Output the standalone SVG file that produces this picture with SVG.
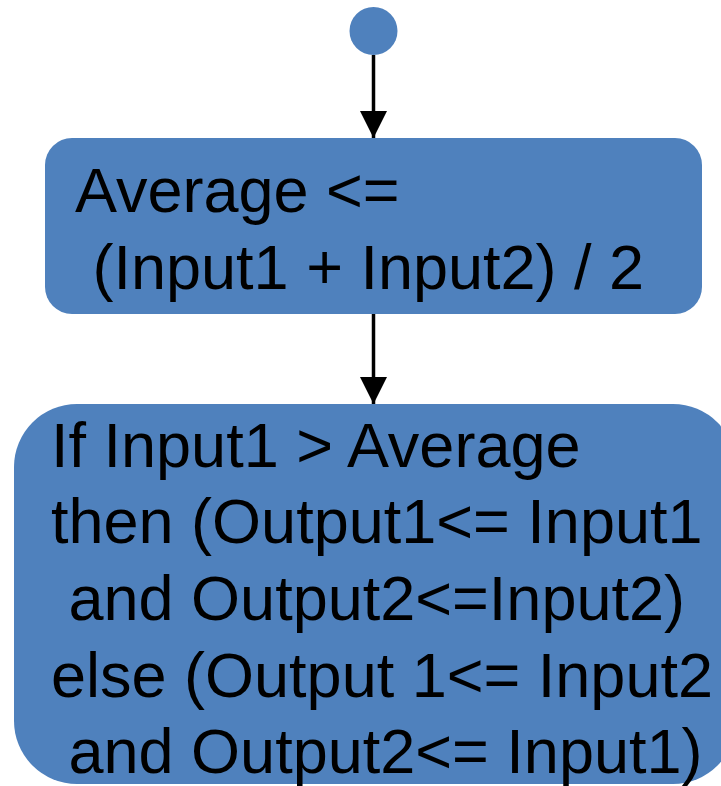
<svg xmlns="http://www.w3.org/2000/svg" width="721" height="786" viewBox="0 0 721 786">
<style>
.node{fill:#4F81BD;}
.lbl{font-family:"Liberation Sans",Arial,sans-serif;font-size:63px;fill:#000;white-space:pre;}
.edge{stroke:#000;stroke-width:3.5;fill:none;}
</style>
<defs>
<marker id="arr" markerUnits="userSpaceOnUse" markerWidth="27" markerHeight="27" refX="27" refY="13.5" orient="auto">
<path d="M0,0 L27,13.5 L0,27 Z" fill="#000"/>
</marker>
</defs>
<rect width="721" height="786" fill="#fff"/>
<g id="start">
<circle class="node" cx="373.5" cy="31" r="24"/>
</g>
<g id="average">
<rect class="node" x="45" y="138" width="657" height="176" rx="27" ry="27"/>
<text class="lbl" xml:space="preserve"><tspan x="75" y="211.5">Average &lt;=</tspan><tspan x="75" y="289"> (Input1 + Input2) / 2</tspan></text>
</g>
<g id="compare">
<rect class="node" x="14" y="404" width="722" height="380" rx="63" ry="63"/>
<text class="lbl" xml:space="preserve"><tspan x="51" y="466.7">If Input1 &gt; Average</tspan><tspan x="51" y="543.3">then (Output1&lt;= Input1</tspan><tspan x="51" y="620"> and Output2&lt;=Input2)</tspan><tspan x="51" y="696.7">else (Output 1&lt;= Input2</tspan><tspan x="51" y="773"> and Output2&lt;= Input1)</tspan></text>
</g>
<g id="connectors">
<line class="edge" x1="373.5" y1="55" x2="373.5" y2="138" marker-end="url(#arr)"/>
<line class="edge" x1="373.5" y1="314" x2="373.5" y2="404" marker-end="url(#arr)"/>
</g>
</svg>
